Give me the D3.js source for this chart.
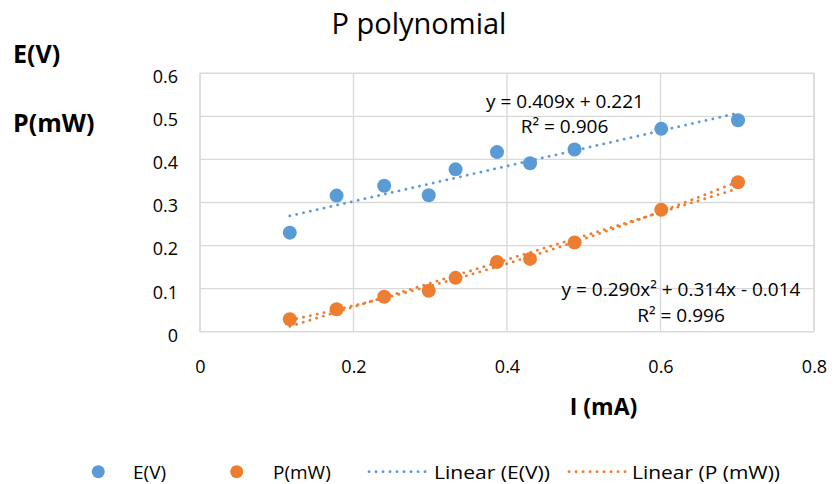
<!DOCTYPE html>
<html>
<head>
<meta charset="utf-8">
<script src="https://cdn.jsdelivr.net/npm/d3@7"></script>
<style>
  body { margin: 0; background: #fff; }
  svg { display: block; font-family: "Open Sans", sans-serif; }
</style>
</head>
<body>
<svg id="chart" width="837" height="484"></svg>
<script>
// ---- data ----
const currentI = [0.117, 0.178, 0.240, 0.298, 0.333, 0.387, 0.430, 0.488, 0.601, 0.701];
const voltageE = [0.230, 0.316, 0.339, 0.317, 0.377, 0.417, 0.391, 0.423, 0.471, 0.491];
const powerP   = [0.029, 0.052, 0.081, 0.095, 0.125, 0.162, 0.169, 0.207, 0.283, 0.347];
const linearE  = [0.409, 0.221];            // slope, intercept
const polyP    = [0.290, 0.314, -0.014];    // a x^2 + b x + c
const xTicks = [0, 0.2, 0.4, 0.6, 0.8];
const yTicks = [0, 0.1, 0.2, 0.3, 0.4, 0.5, 0.6];
const titleText = "P polynomial";
const eqE = ["y = 0.409x + 0.221", "R² = 0.906"];
const eqP = ["y = 0.290x² + 0.314x - 0.014", "R² = 0.996"];
const legendLabels = ["E(V)", "P(mW)", "Linear (E(V))", "Linear (P (mW))"];

const blue = "#5B9BD5", orange = "#ED7D31", grid = "#D9D9D9";

const svg = d3.select("#chart");
const L = 200, R = 814, T = 73.3, B = 331.7;
const x = d3.scaleLinear().domain([0, 0.8]).range([L, R]);
const y = d3.scaleLinear().domain([0, 0.6]).range([B, T]);

// gridlines
svg.append("g").selectAll("line.h").data(yTicks).join("line")
  .attr("x1", L).attr("x2", R).attr("y1", d => y(d)).attr("y2", d => y(d))
  .attr("stroke", grid).attr("stroke-width", 1.3);
svg.append("g").selectAll("line.v").data(xTicks).join("line")
  .attr("y1", T).attr("y2", B).attr("x1", d => x(d)).attr("x2", d => x(d))
  .attr("stroke", grid).attr("stroke-width", 1.3);
svg.append("rect").attr("x", L).attr("y", T).attr("width", R - L).attr("height", B - T)
  .attr("fill", "none").attr("stroke", grid).attr("stroke-width", 1.3);

// axes
const xAxis = svg.append("g").attr("transform", `translate(0,${B})`)
  .call(d3.axisBottom(x).tickValues(xTicks).tickSize(0).tickPadding(28.5).tickFormat(d => d === 0 ? "0" : d3.format(".1f")(d)));
xAxis.select(".domain").remove();
xAxis.selectAll("text").attr("font-size", 18).attr("fill", "#000").attr("font-family", "Open Sans");

const yAxis = svg.append("g").attr("transform", `translate(${L},0)`)
  .call(d3.axisLeft(y).tickValues(yTicks).tickSize(0).tickPadding(22).tickFormat(d => d === 0 ? "0" : d3.format(".1f")(d)));
yAxis.select(".domain").remove();
yAxis.selectAll("text").attr("font-size", 18).attr("fill", "#000").attr("dy", "0.52em").attr("font-family", "Open Sans");

// markers
svg.append("g").selectAll("circle").data(currentI).join("circle")
  .attr("cx", d => x(d)).attr("cy", (d, i) => y(voltageE[i])).attr("r", 7).attr("fill", blue);
svg.append("g").selectAll("circle").data(currentI).join("circle")
  .attr("cx", d => x(d)).attr("cy", (d, i) => y(powerP[i])).attr("r", 7).attr("fill", orange);

// trendlines
const xMin = d3.min(currentI), xMax = d3.max(currentI);
const dotted = sel => sel.attr("fill", "none").attr("stroke-width", 2.8)
  .attr("stroke-linecap", "round").attr("stroke-dasharray", "0.1 6.9");
const line = d3.line().x(d => x(d[0])).y(d => y(d[1]));

svg.append("path").datum([[xMin, linearE[0] * xMin + linearE[1]], [xMax, linearE[0] * xMax + linearE[1]]])
  .attr("d", line).attr("stroke", blue).call(dotted);

// least-squares linear fit of P
const mx = d3.mean(currentI), my = d3.mean(powerP);
const sxy = d3.sum(currentI, (d, i) => (d - mx) * (powerP[i] - my));
const sxx = d3.sum(currentI, d => (d - mx) * (d - mx));
const slopeP = sxy / sxx, interP = my - slopeP * mx;
svg.append("path").datum([[xMin, slopeP * xMin + interP], [xMax, slopeP * xMax + interP]])
  .attr("d", line).attr("stroke", orange).call(dotted);

const polyPts = d3.range(0, 41).map(k => {
  const xv = xMin + (xMax - xMin) * k / 40;
  return [xv, polyP[0] * xv * xv + polyP[1] * xv + polyP[2]];
});
svg.append("path").datum(polyPts).attr("d", line).attr("stroke", orange).call(dotted);

// equations
const eqStyle = s => s.attr("font-size", 19).attr("fill", "#000").attr("text-anchor", "middle");
svg.append("text").attr("x", 565).attr("y", 107.5).text(eqE[0]).call(eqStyle);
svg.append("text").attr("x", 564.5).attr("y", 133.3).text(eqE[1]).call(eqStyle);
svg.append("text").attr("x", 681).attr("y", 295.7).text(eqP[0]).call(eqStyle);
svg.append("text").attr("x", 681).attr("y", 321.7).text(eqP[1]).call(eqStyle);

// title & axis titles
svg.append("text").attr("x", 419).attr("y", 34.3).attr("text-anchor", "middle")
  .attr("font-size", 29).attr("fill", "#000").text(titleText);
svg.append("text").attr("x", 13).attr("y", 63).attr("font-size", 25).attr("font-weight", "bold").text("E(V)");
svg.append("text").attr("x", 13).attr("y", 131.7).attr("font-size", 25).attr("font-weight", "bold").text("P(mW)");
svg.append("text").attr("x", 603.5).attr("y", 415).attr("text-anchor", "middle")
  .attr("font-size", 23).attr("font-weight", "bold").text("I (mA)");

// legend
const lg = svg.append("g");
const ly = 471.7;
lg.append("circle").attr("cx", 98.3).attr("cy", ly).attr("r", 6.5).attr("fill", blue);
lg.append("text").attr("x", 133).attr("y", ly + 7).attr("font-size", 19).text(legendLabels[0]);
lg.append("circle").attr("cx", 236.7).attr("cy", ly).attr("r", 6.5).attr("fill", orange);
lg.append("text").attr("x", 273).attr("y", ly + 7).attr("font-size", 19).text(legendLabels[1]);
lg.append("line").attr("x1", 369).attr("x2", 430).attr("y1", ly).attr("y2", ly).attr("stroke", blue).call(dotted);
lg.append("text").attr("x", 434).attr("y", ly + 7).attr("font-size", 19).attr("textLength", 116).attr("lengthAdjust", "spacingAndGlyphs").text(legendLabels[2]);
lg.append("line").attr("x1", 569).attr("x2", 628).attr("y1", ly).attr("y2", ly).attr("stroke", orange).call(dotted);
lg.append("text").attr("x", 632).attr("y", ly + 7).attr("font-size", 19).attr("textLength", 148).attr("lengthAdjust", "spacingAndGlyphs").text(legendLabels[3]);
</script>
</body>
</html>
